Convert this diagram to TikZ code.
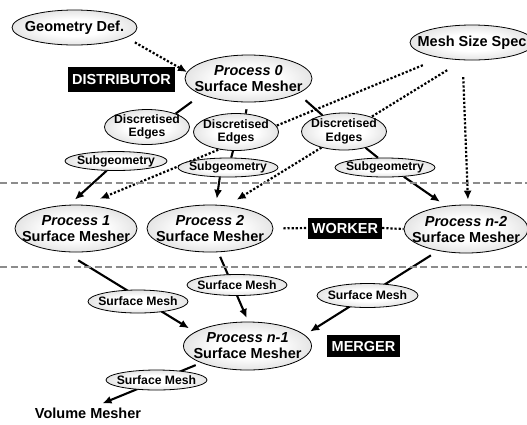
\documentclass[tikz,border=0pt]{standalone}
\usepackage{fontspec}
\setmainfont{Liberation Sans}
\usetikzlibrary{shapes.geometric,arrows.meta}
\pgfdeclarelayer{edges}
\pgfsetlayers{edges,main}
% light centre fading to grey at the rim of each oval
\pgfdeclareradialshading{ovalshade}{\pgfpoint{0bp}{0bp}}{color(0bp)=(white); color(12bp)=(white); color(50bp)=(black!30); color(100bp)=(black!30)}
\tikzset{
  bigtxt/.style={font=\fontsize{14.5bp}{16bp}\selectfont\bfseries},
  smalltxt/.style={font=\fontsize{12.2bp}{13.5bp}\selectfont\bfseries},
  oval/.style={ellipse, draw=black, line width=0.8bp, shade, shading=ovalshade,
    inner sep=-40bp, align=center},
  proc/.style={oval, bigtxt, minimum width=124bp, minimum height=47bp},
  tag/.style={rectangle, fill=black, text=white, inner sep=0pt, bigtxt},
  conn/.style={line width=2.1bp},
  arr/.style={-{Latex[length=9bp,width=8bp]}},
  dots/.style={line width=2.2bp, dash pattern=on 2.2bp off 1.9bp},
  divider/.style={draw=black!45, line width=1.1bp, dash pattern=on 7bp off 3.5bp},
}
\begin{document}
\begin{tikzpicture}[x=1bp, y=-1bp]
\useasboundingbox (0,0) rectangle (527,424);
\clip (0,0) rectangle (527,424);

% stage dividers
\draw[divider] (0,183) -- (527,183);
\draw[divider] (0,267) -- (527,267);

% inputs
\node[oval, bigtxt, minimum width=125bp, minimum height=35bp] (geo) at (74.5,27.5) {Geometry Def.};
\node[oval, bigtxt, minimum width=124bp, minimum height=35bp] (msp) at (472,42.5) {Mesh Size Spec};

% distributor stage
\node[tag, minimum width=107bp, minimum height=25bp] (dist) at (121.5,79.5) {DISTRIBUTOR};
\node[proc, minimum width=127bp] (p0) at (248.5,78.5) {\textit{Process 0}\\Surface Mesher};
\node[oval, smalltxt, minimum width=85bp, minimum height=35bp] (de1) at (147,127) {Discretised\\Edges};
\node[oval, smalltxt, minimum width=85bp, minimum height=37bp] (de2) at (236,132) {Discretised\\Edges};
\node[oval, smalltxt, minimum width=85bp, minimum height=37bp] (de3) at (344,131.5) {Discretised\\Edges};
\node[oval, smalltxt, minimum width=102bp, minimum height=19bp] (sg1) at (116,161) {Subgeometry};
\node[oval, smalltxt, minimum width=100bp, minimum height=19bp] (sg2) at (228,167.5) {Subgeometry};
\node[oval, smalltxt, minimum width=100bp, minimum height=19bp] (sg3) at (385,167.5) {Subgeometry};

% worker stage
\node[proc, minimum width=122bp] (p1) at (76,228.5) {\textit{Process 1}\\Surface Mesher};
\node[proc, minimum width=126bp] (p2) at (210,228.5) {\textit{Process 2}\\Surface Mesher};
\node[proc, minimum width=124bp, minimum height=48bp] (pn2) at (466,229) {\textit{Process n-2}\\Surface Mesher};
\node[tag, minimum width=74bp, minimum height=21bp] (worker) at (345,228) {WORKER};

% merger stage
\node[oval, smalltxt, minimum width=100bp, minimum height=23bp] (sm1) at (138,301.5) {Surface Mesh};
\node[oval, smalltxt, minimum width=100bp, minimum height=21bp] (sm2) at (237,285) {Surface Mesh};
\node[oval, smalltxt, minimum width=101bp, minimum height=24bp] (sm3) at (367.5,295.5) {Surface Mesh};
\node[proc, minimum width=128bp, minimum height=48bp] (pn1) at (247.5,346) {\textit{Process n-1}\\Surface Mesher};
\node[tag, minimum width=73bp, minimum height=22bp] (merger) at (363.5,346) {MERGER};
\node[oval, smalltxt, minimum width=101bp, minimum height=20bp] (sm4) at (156.5,380) {Surface Mesh};
\node[bigtxt, inner sep=3bp] (vm) at (88,413) {Volume Mesher};

\begin{pgfonlayer}{edges}
  % geometry into the distributor
  \draw[dots, arr, shorten <=9.7bp] (geo.349) -- (p0.174);
  % distributor splits into edges and subgeometries
  \draw[conn, shorten <=12bp] (p0.199) -- (de1.25);
  \draw[conn, shorten <=7bp] (p0.268) -- (de2.62);
  \draw[conn, shorten <=10bp] (p0.343) -- (de3.143);
  \draw[conn] (de2.261) -- (sg2.72);
  \draw[conn] (de3.323) -- (sg3.126);
  \draw[conn, arr, shorten >=7.7bp] (sg1.226) -- (p1.106);
  \draw[conn, arr, shorten >=6bp] (sg2.230) -- (p2.76);
  \draw[conn, arr, shorten >=7.3bp] (sg3.334) -- (pn2.131);
  % mesh size specification to every worker
  \draw[dots, arr, shorten <=19bp, shorten >=16bp] (msp.206) -- (p1.69);
  \draw[dots, arr, shorten <=19bp, shorten >=11bp] (msp.244) -- (p2.53);
  \draw[dots, arr, shorten <=17bp, shorten >=5bp] (msp.242.5) -- (pn2.85);
  % worker row
  \draw[dots, shorten <=10bp] (p2.east) -- (worker.west);
  \draw[dots] (worker.east) -- (pn2.west);
  % surface meshes gathered by the merger
  \draw[conn, arr, shorten <=16bp, shorten >=7bp] (p1.244) -- (pn1.165);
  \draw[conn, arr, shorten <=5bp, shorten >=4bp] (p2.289) -- (pn1.88);
  \draw[conn, arr, shorten <=8.5bp, shorten >=6.3bp] (pn2.218) -- (pn1.11);
  \draw[conn, arr, shorten <=5.8bp, shorten >=3bp] (pn1.200) -- (vm.36);
\end{pgfonlayer}
\end{tikzpicture}
\end{document}
